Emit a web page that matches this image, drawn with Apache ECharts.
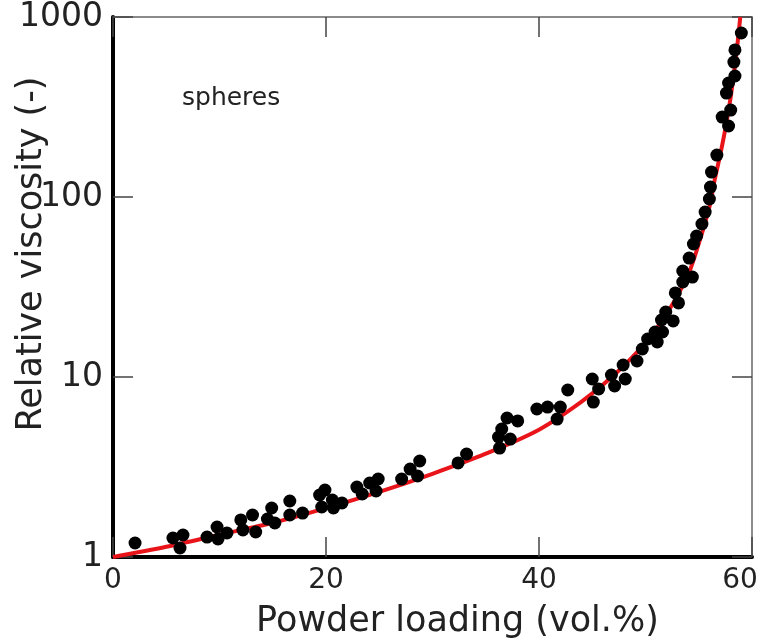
<!DOCTYPE html>
<html>
<head>
<meta charset="utf-8">
<script src="https://cdn.jsdelivr.net/npm/echarts@6/dist/echarts.min.js"></script>
<style>
html,body{margin:0;padding:0;background:#fff;}
#c{width:763px;height:643px;}
</style>
</head>
<body>
<div id="c"></div>
<script>
// Measured data points (Powder loading vol.%, Relative viscosity)
var loadingPts = [2.07,5.63,6.57,6.29,8.83,9.77,9.86,10.7,12.0,12.2,13.1,13.4,14.5,14.9,15.2,16.6,16.6,17.8,19.4,19.9,19.6,20.6,20.7,21.5,22.9,23.4,24.1,24.9,24.7,27.1,27.9,28.6,28.8,32.4,33.2,36.3,36.2,36.5,37.0,38.0,37.3,39.8,40.8,42.0,41.7,42.7,45.0,45.6,45.1,46.8,47.1,48.1,47.9,49.2,49.7,50.2,51.1,50.9,51.6,51.5,51.9,52.6,52.8,53.1,53.5,53.5,54.4,54.1,54.5,54.8,55.3,55.6,56.0,56.1,56.2,56.7,57.8,57.2,58.0,57.6,57.8,58.4,58.3,58.4,59.0];
var viscosityPts = [1.196,1.275,1.325,1.122,1.291,1.468,1.259,1.359,1.606,1.413,1.711,1.377,1.626,1.872,1.545,2.047,1.711,1.755,2.21,2.355,1.896,2.073,1.872,1.995,2.447,2.239,2.577,2.712,2.326,2.712,3.08,2.818,3.415,3.33,3.735,4.03,4.64,5.14,5.92,5.70,4.52,6.64,6.81,6.81,5.84,8.47,9.75,8.58,7.26,10.26,8.91,9.75,11.66,12.27,14.31,16.26,15.65,17.78,17.78,20.74,22.96,20.5,29.3,25.8,33.7,38.8,35.9,45.8,54.8,60.7,70.8,82.5,97.5,113.6,137.6,171,248,278,304,378,430,470,562,656,815];
// Fitted curve
var curveX = [0,5,10,15,20,25,30,35,40,44,47,50,52,54,55,56,56.5,57,57.5,58,58.5,58.9];
var curveY = [1,1.14,1.33,1.55,1.87,2.3,2.9,3.75,5.1,7.3,10.2,15.5,22.5,37,55,88,125,170,240,360,600,1000];
var xTicks = [0,20,40,60];
var yTicks = [1,10,100,1000];

var chart = echarts.init(document.getElementById('c'));
var scatterData = loadingPts.map(function(x,i){return [x, viscosityPts[i]];});
var curveData = curveX.map(function(x,i){return [x, curveY[i]];});
var font = 'DejaVu Sans';
chart.setOption({
  animation:false,
  backgroundColor:'#fff',
  grid:{left:113,top:17,right:11,bottom:86,containLabel:false,outerBoundsMode:'none'},
  xAxis:[{
    type:'value',min:0,max:60,interval:20,position:'bottom',
    name:'Powder loading (vol.%)',nameLocation:'middle',nameGap:47,nameMoveOverlap:false,
    nameTextStyle:{fontFamily:font,fontSize:35,color:'#222',padding:[0,0,0,50]},
    axisLine:{show:true,onZero:false,lineStyle:{color:'#000',width:4}},
    axisTick:{show:true,inside:true,length:20,lineStyle:{color:'#444',width:1.5}},
    axisLabel:{fontFamily:font,fontSize:28,color:'#222',margin:10,
      formatter:function(v){if(v===60)return '{m|60}';return xTicks.indexOf(v)>=0?String(v):'';},
      rich:{m:{fontFamily:font,fontSize:28,color:'#222',padding:[0,24,0,0]}}},
    splitLine:{show:false}
  },{
    type:'value',min:0,max:60,interval:20,position:'top',
    axisLine:{show:true,onZero:false,lineStyle:{color:'#666',width:1.5}},
    axisTick:{show:true,inside:true,length:20,lineStyle:{color:'#444',width:1.5}},
    axisLabel:{show:false},splitLine:{show:false}
  }],
  yAxis:[{
    type:'log',logBase:10,min:1,max:1000,position:'left',
    name:'Relative viscosity (-)',nameLocation:'middle',nameGap:64,nameRotate:90,nameMoveOverlap:false,
    nameTextStyle:{fontFamily:font,fontSize:35,color:'#222',padding:[0,0,0,66]},
    axisLine:{show:true,onZero:false,lineStyle:{color:'#000',width:4}},
    axisTick:{show:true,inside:true,length:20,lineStyle:{color:'#444',width:1.5}},
    minorTick:{show:false},
    axisLabel:{fontFamily:font,fontSize:33,color:'#222',margin:10,
      formatter:function(v){var r=Math.round(v);return yTicks.indexOf(r)>=0?String(r):'';}},
    splitLine:{show:false}
  },{
    type:'log',logBase:10,min:1,max:1000,position:'right',
    axisLine:{show:true,onZero:false,lineStyle:{color:'#666',width:1.5}},
    axisTick:{show:true,inside:true,length:20,lineStyle:{color:'#444',width:1.5}},
    axisLabel:{show:false},splitLine:{show:false}
  }],
  graphic:[{type:'text',left:182,top:86,style:{text:'spheres',font:'25px "DejaVu Sans"',fill:'#222'}}],
  series:[{
    type:'line',data:curveData,xAxisIndex:0,yAxisIndex:0,smooth:0.3,showSymbol:false,
    lineStyle:{color:'#e8141a',width:4},clip:true,z:2
  },{
    type:'scatter',data:scatterData,xAxisIndex:0,yAxisIndex:0,symbol:'circle',symbolSize:13,
    itemStyle:{color:'#000',opacity:1},z:3
  }]
});
</script>
</body>
</html>
